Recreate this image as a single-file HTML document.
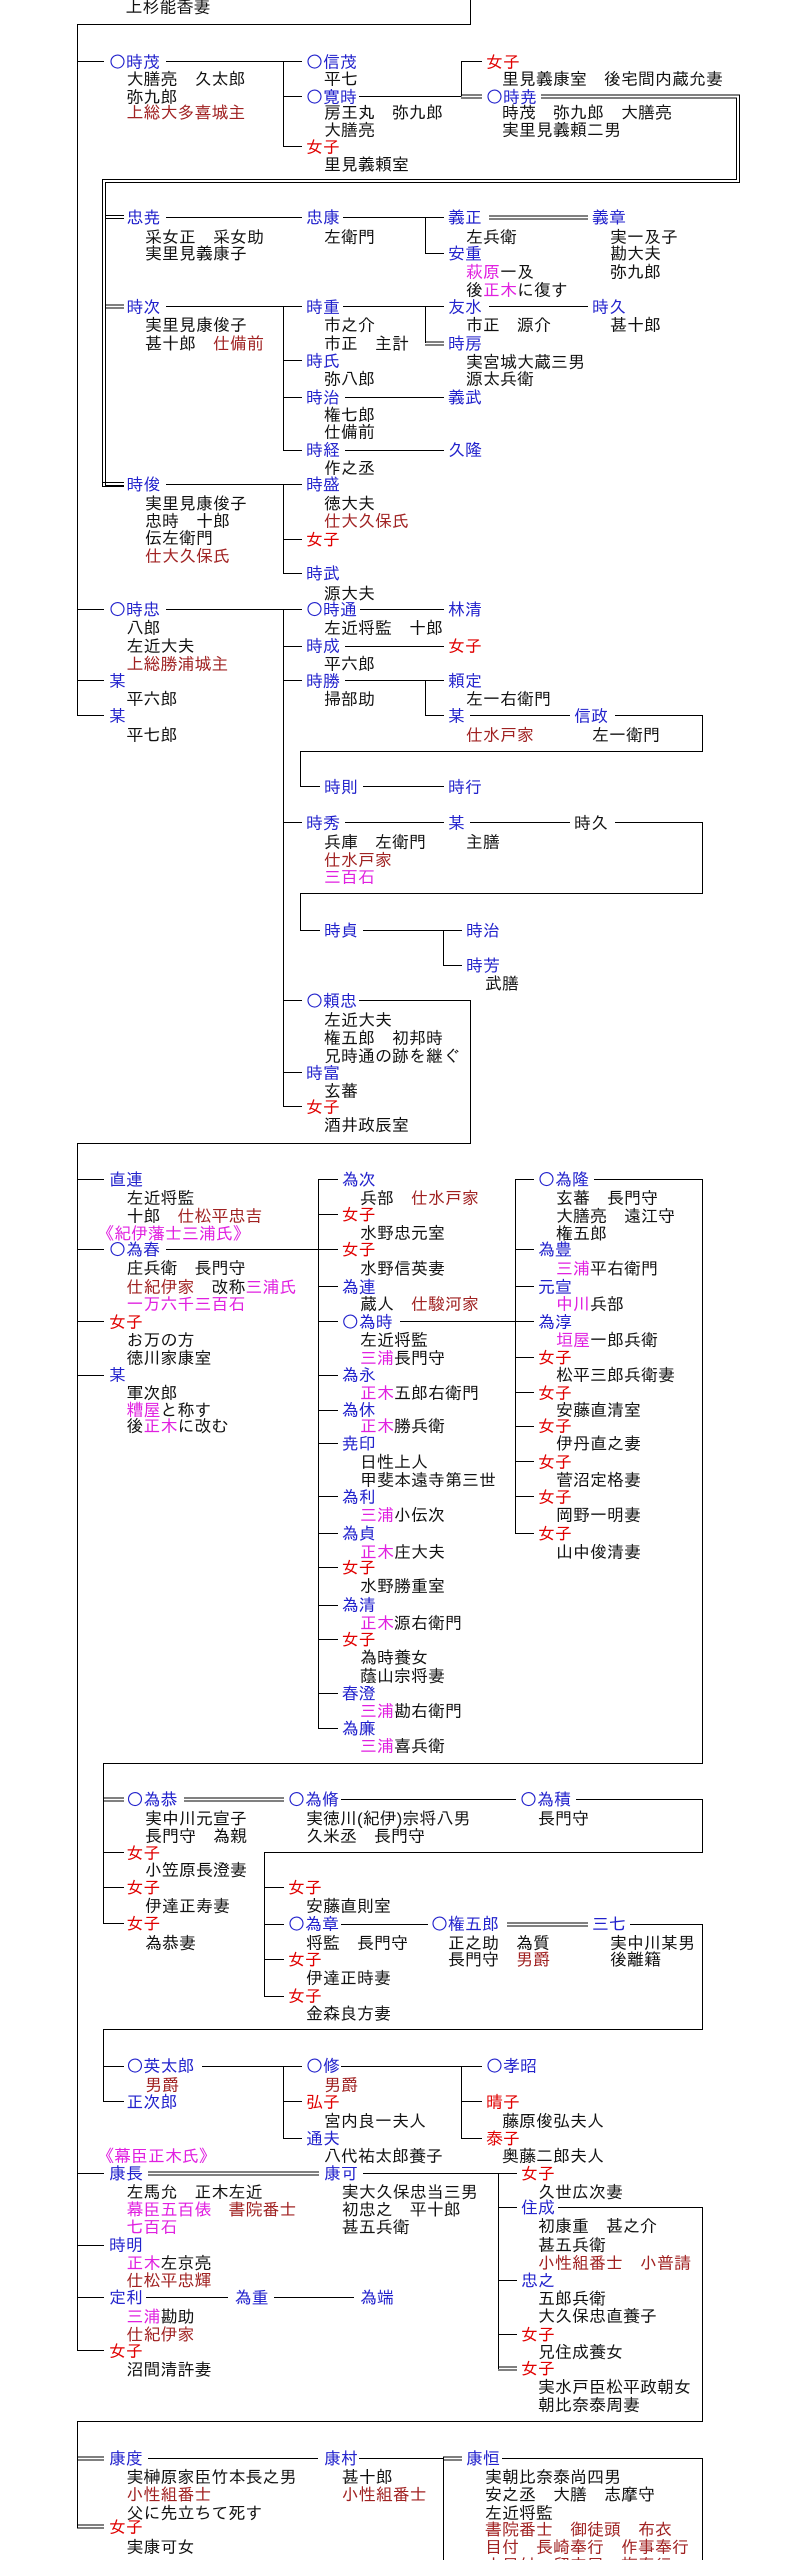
<!DOCTYPE html>
<html><head><meta charset="utf-8">
<style>
html,body{margin:0;padding:0;background:#fff;}
svg{display:block;}
text{font-family:"Liberation Sans","IPAGothic","Noto Sans CJK JP",sans-serif;font-size:17px;fill:#111;}
.c{font-family:"IPAGothic","Noto Sans CJK JP",sans-serif;}
.b{fill:#2222cc;}
.r{fill:#e00000;}
.d{fill:#a02222;}
.m{fill:#e020e0;}
line,polyline{stroke:#000;stroke-width:1;fill:none;}
</style></head><body>
<svg width="794" height="2560" viewBox="0 0 794 2560" xmlns="http://www.w3.org/2000/svg">
<g>
<!-- ===== lines section A ===== -->
<polyline points="470.5,0 470.5,24.5 77.5,24.5 77.5,716"/>
<line x1="77" y1="61.5" x2="104" y2="61.5"/>
<line x1="166" y1="61.5" x2="302" y2="61.5"/>
<line x1="283.5" y1="61.5" x2="283.5" y2="146.5"/>
<line x1="283" y1="96.5" x2="302" y2="96.5"/>
<line x1="283" y1="146.5" x2="302" y2="146.5"/>
<line x1="359" y1="96.5" x2="461" y2="96.5"/>
<line x1="461.5" y1="61.5" x2="461.5" y2="96.5"/>
<line x1="461" y1="61.5" x2="482" y2="61.5"/>
<line x1="461" y1="95" x2="482" y2="95"/>
<line x1="461" y1="98" x2="482" y2="98"/>
<!-- double loop from 時尭 -->
<polyline points="541,95 739.5,95 739.5,182.5 105.5,182.5 105.5,485.5 124,485.5"/>
<polyline points="541,98 736.5,98 736.5,179.5 102.5,179.5 102.5,486.5"/>
<line x1="102" y1="486.5" x2="124" y2="486.5"/>
<line x1="102" y1="482.5" x2="124" y2="482.5"/>
<line x1="105" y1="215.5" x2="124" y2="215.5"/><line x1="105" y1="218.5" x2="124" y2="218.5"/>
<line x1="105" y1="305" x2="124" y2="305"/><line x1="105" y1="308" x2="124" y2="308"/>
<line x1="166" y1="217.5" x2="302" y2="217.5"/>
<line x1="343" y1="217.5" x2="444" y2="217.5"/>
<line x1="425.5" y1="217.5" x2="425.5" y2="253.5"/>
<line x1="425" y1="253.5" x2="444" y2="253.5"/>
<line x1="489" y1="216" x2="588" y2="216"/><line x1="489" y1="219" x2="588" y2="219"/>
<line x1="166" y1="306.5" x2="302" y2="306.5"/>
<line x1="283.5" y1="306.5" x2="283.5" y2="450.5"/>
<line x1="283" y1="360.5" x2="302" y2="360.5"/>
<line x1="283" y1="397.5" x2="302" y2="397.5"/>
<line x1="283" y1="450.5" x2="302" y2="450.5"/>
<line x1="343" y1="306.5" x2="444" y2="306.5"/>
<line x1="425.5" y1="306.5" x2="425.5" y2="343"/>
<line x1="425" y1="342" x2="444" y2="342"/><line x1="425" y1="345" x2="444" y2="345"/>
<line x1="489" y1="306.5" x2="588" y2="306.5"/>
<line x1="345" y1="397.5" x2="444" y2="397.5"/>
<line x1="345" y1="450.5" x2="444" y2="450.5"/>
<line x1="166" y1="484.5" x2="302" y2="484.5"/>
<line x1="283.5" y1="484.5" x2="283.5" y2="573.5"/>
<line x1="283" y1="539.5" x2="302" y2="539.5"/>
<line x1="283" y1="573.5" x2="302" y2="573.5"/>
<!-- 時忠 -->
<line x1="77" y1="609.5" x2="104" y2="609.5"/>
<line x1="166" y1="609.5" x2="302" y2="609.5"/>
<line x1="283.5" y1="609.5" x2="283.5" y2="1106.5"/>
<line x1="360" y1="609.5" x2="444" y2="609.5"/>
<line x1="283" y1="646.5" x2="302" y2="646.5"/>
<line x1="345" y1="646.5" x2="444" y2="646.5"/>
<line x1="283" y1="680.5" x2="302" y2="680.5"/>
<line x1="345" y1="680.5" x2="444" y2="680.5"/>
<line x1="425.5" y1="680.5" x2="425.5" y2="715.5"/>
<line x1="425" y1="715.5" x2="444" y2="715.5"/>
<line x1="470" y1="715.5" x2="570" y2="715.5"/>
<polyline points="615,715.5 702.5,715.5 702.5,751.5 300.5,751.5 300.5,786.5 320,786.5"/>
<line x1="363" y1="786.5" x2="444" y2="786.5"/>
<line x1="77" y1="680.5" x2="104" y2="680.5"/>
<line x1="77" y1="715.5" x2="104" y2="715.5"/>
<line x1="283" y1="822.5" x2="302" y2="822.5"/>
<line x1="345" y1="822.5" x2="444" y2="822.5"/>
<line x1="470" y1="822.5" x2="570" y2="822.5"/>
<polyline points="615,822.5 702.5,822.5 702.5,893.5 300.5,893.5 300.5,930.5 320,930.5"/>
<line x1="363" y1="930.5" x2="462" y2="930.5"/>
<polyline points="443.5,930.5 443.5,965.5 462,965.5"/>
<line x1="283" y1="1000.5" x2="302" y2="1000.5"/>
<polyline points="359,1000.5 470.5,1000.5 470.5,1143.5 77.5,1143.5 77.5,2351"/>
<line x1="283" y1="1072.5" x2="302" y2="1072.5"/>
<line x1="283" y1="1106.5" x2="302" y2="1106.5"/>
<!-- section 3 -->
<line x1="77" y1="1179.5" x2="104" y2="1179.5"/>
<line x1="77" y1="1249.5" x2="104" y2="1249.5"/>
<line x1="166" y1="1249.5" x2="319" y2="1249.5"/>
<line x1="77" y1="1321.5" x2="104" y2="1321.5"/>
<line x1="77" y1="1375.5" x2="104" y2="1375.5"/>
<line x1="318.5" y1="1179.5" x2="318.5" y2="1728.5"/>
<line x1="318" y1="1179.5" x2="338" y2="1179.5"/>
<line x1="318" y1="1214.5" x2="338" y2="1214.5"/>
<line x1="318" y1="1249.5" x2="338" y2="1249.5"/>
<line x1="318" y1="1286.5" x2="338" y2="1286.5"/>
<line x1="318" y1="1321.5" x2="338" y2="1321.5"/>
<line x1="318" y1="1375.5" x2="338" y2="1375.5"/>
<line x1="318" y1="1410.5" x2="338" y2="1410.5"/>
<line x1="318" y1="1443.5" x2="338" y2="1443.5"/>
<line x1="318" y1="1496.5" x2="338" y2="1496.5"/>
<line x1="318" y1="1533.5" x2="338" y2="1533.5"/>
<line x1="318" y1="1567.5" x2="338" y2="1567.5"/>
<line x1="318" y1="1605.5" x2="338" y2="1605.5"/>
<line x1="318" y1="1639.5" x2="338" y2="1639.5"/>
<line x1="318" y1="1693.5" x2="338" y2="1693.5"/>
<line x1="318" y1="1728.5" x2="338" y2="1728.5"/>
<line x1="400" y1="1321.5" x2="515" y2="1321.5"/>
<line x1="515.5" y1="1179.5" x2="515.5" y2="1533.5"/>
<line x1="515" y1="1179.5" x2="534" y2="1179.5"/>
<line x1="515" y1="1249.5" x2="534" y2="1249.5"/>
<line x1="515" y1="1286.5" x2="534" y2="1286.5"/>
<line x1="515" y1="1321.5" x2="534" y2="1321.5"/>
<line x1="515" y1="1357.5" x2="534" y2="1357.5"/>
<line x1="515" y1="1392.5" x2="534" y2="1392.5"/>
<line x1="515" y1="1426.5" x2="534" y2="1426.5"/>
<line x1="515" y1="1461.5" x2="534" y2="1461.5"/>
<line x1="515" y1="1496.5" x2="534" y2="1496.5"/>
<line x1="515" y1="1533.5" x2="534" y2="1533.5"/>
<polyline points="594,1179.5 702.5,1179.5 702.5,1763.5 103.5,1763.5 103.5,1923.5 124,1923.5"/>
<line x1="103" y1="1798" x2="124" y2="1798"/><line x1="103" y1="1801" x2="124" y2="1801"/>
<line x1="103" y1="1852.5" x2="124" y2="1852.5"/>
<line x1="103" y1="1887.5" x2="124" y2="1887.5"/>
<line x1="184" y1="1798" x2="284" y2="1798"/><line x1="184" y1="1801" x2="284" y2="1801"/>
<line x1="341" y1="1799.5" x2="516" y2="1799.5"/>
<polyline points="576,1799.5 702.5,1799.5 702.5,1852.5 264.5,1852.5 264.5,1996.5 284,1996.5"/>
<line x1="264" y1="1887.5" x2="284" y2="1887.5"/>
<line x1="264" y1="1924.5" x2="284" y2="1924.5"/>
<line x1="264" y1="1959.5" x2="284" y2="1959.5"/>
<line x1="341" y1="1924.5" x2="428" y2="1924.5"/>
<line x1="507" y1="1923" x2="588" y2="1923"/><line x1="507" y1="1926" x2="588" y2="1926"/>
<polyline points="630,1924.5 702.5,1924.5 702.5,2029.5 103.5,2029.5 103.5,2101.5 124,2101.5"/>
<line x1="103" y1="2066.5" x2="124" y2="2066.5"/>
<line x1="202" y1="2066.5" x2="302" y2="2066.5"/>
<line x1="283.5" y1="2066.5" x2="283.5" y2="2138.5"/>
<line x1="283" y1="2101.5" x2="302" y2="2101.5"/>
<line x1="283" y1="2138.5" x2="302" y2="2138.5"/>
<line x1="341" y1="2066.5" x2="482" y2="2066.5"/>
<line x1="461.5" y1="2066.5" x2="461.5" y2="2138.5"/>
<line x1="461" y1="2101.5" x2="482" y2="2101.5"/>
<line x1="461" y1="2138.5" x2="482" y2="2138.5"/>
<!-- section 5 -->
<line x1="77" y1="2173.5" x2="104" y2="2173.5"/>
<line x1="148" y1="2172" x2="319" y2="2172"/><line x1="148" y1="2175" x2="319" y2="2175"/>
<line x1="363" y1="2173.5" x2="517" y2="2173.5"/>
<line x1="498.5" y1="2173.5" x2="498.5" y2="2369"/>
<line x1="498" y1="2207.5" x2="517" y2="2207.5"/>
<line x1="498" y1="2280.5" x2="517" y2="2280.5"/>
<line x1="498" y1="2334.5" x2="517" y2="2334.5"/>
<line x1="498" y1="2367" x2="517" y2="2367"/><line x1="498" y1="2370" x2="517" y2="2370"/>
<polyline points="558,2207.5 702.5,2207.5 702.5,2421.5 77.5,2421.5 77.5,2528"/>
<line x1="77" y1="2245.5" x2="104" y2="2245.5"/>
<line x1="77" y1="2297.5" x2="104" y2="2297.5"/>
<line x1="77" y1="2350.5" x2="104" y2="2350.5"/>
<line x1="146" y1="2297.5" x2="228" y2="2297.5"/>
<line x1="274" y1="2297.5" x2="354" y2="2297.5"/>
<line x1="77" y1="2457" x2="104" y2="2457"/><line x1="77" y1="2460" x2="104" y2="2460"/>
<line x1="77" y1="2525" x2="104" y2="2525"/><line x1="77" y1="2528" x2="104" y2="2528"/>
<line x1="148" y1="2458.5" x2="318" y2="2458.5"/>
<line x1="359" y1="2458.5" x2="443" y2="2458.5"/>
<line x1="443.5" y1="2457" x2="443.5" y2="2560"/>
<line x1="443" y1="2457" x2="462" y2="2457"/><line x1="443" y1="2460" x2="462" y2="2460"/>
<polyline points="502,2458.5 702.5,2458.5 702.5,2560"/>
</g>

<g>
<!-- ===== text section A ===== -->
<text x="125.5" y="13">上杉能香妻</text>
<text x="109" y="68" class="b"><tspan class="c">○</tspan>時茂</text>
<text x="126.5" y="85">大膳亮　久太郎</text>
<text x="126.5" y="103">弥九郎</text>
<text x="126.5" y="118.5" class="d">上総大多喜城主</text>
<text x="306" y="68" class="b"><tspan class="c">○</tspan>信茂</text>
<text x="324" y="85">平七</text>
<text x="306" y="103" class="b"><tspan class="c">○</tspan>寛時</text>
<text x="324" y="118.5">房王丸　弥九郎</text>
<text x="324" y="136">大膳亮</text>
<text x="306" y="153" class="r">女子</text>
<text x="324" y="170.5">里見義頼室</text>
<text x="486" y="68" class="r">女子</text>
<text x="502" y="85">里見義康室　後宅間内蔵允妻</text>
<text x="486" y="103" class="b"><tspan class="c">○</tspan>時尭</text>
<text x="502" y="118.5">時茂　弥九郎　大膳亮</text>
<text x="502" y="136">実里見義頼二男</text>

<text x="126.5" y="223.5" class="b">忠尭</text>
<text x="145" y="243">采女正　采女助</text>
<text x="145" y="259.5">実里見義康子</text>
<text x="306" y="223.5" class="b">忠康</text>
<text x="324" y="243">左衛門</text>
<text x="448" y="223.5" class="b">義正</text>
<text x="466" y="243">左兵衛</text>
<text x="448" y="259.5" class="b">安重</text>
<text x="466" y="278"><tspan class="m">萩原</tspan>一及</text>
<text x="466" y="296">後<tspan class="m">正木</tspan>に復す</text>
<text x="592" y="223.5" class="b">義章</text>
<text x="610" y="243">実一及子</text>
<text x="610" y="259.5">勘大夫</text>
<text x="610" y="278">弥九郎</text>

<text x="126.5" y="313" class="b">時次</text>
<text x="145" y="331">実里見康俊子</text>
<text x="145" y="349.5">甚十郎　<tspan class="d">仕備前</tspan></text>
<text x="306" y="313" class="b">時重</text>
<text x="324" y="331">市之介</text>
<text x="324" y="349.5">市正　主計</text>
<text x="448" y="313" class="b">友水</text>
<text x="466" y="331">市正　源介</text>
<text x="592" y="313" class="b">時久</text>
<text x="610" y="331">甚十郎</text>
<text x="448" y="349.5" class="b">時房</text>
<text x="466" y="368">実宮城大蔵三男</text>
<text x="466" y="385">源太兵衛</text>
<text x="306" y="367" class="b">時氏</text>
<text x="324" y="385">弥八郎</text>
<text x="306" y="403.5" class="b">時治</text>
<text x="324" y="421">権七郎</text>
<text x="324" y="438">仕備前</text>
<text x="448" y="403.5" class="b">義武</text>
<text x="306" y="456" class="b">時経</text>
<text x="324" y="474">作之丞</text>
<text x="448" y="456" class="b">久隆</text>

<text x="126.5" y="490.5" class="b">時俊</text>
<text x="145" y="509.5">実里見康俊子</text>
<text x="145" y="527">忠時　十郎</text>
<text x="145" y="544">伝左衛門</text>
<text x="145" y="562" class="d">仕大久保氏</text>
<text x="306" y="490.5" class="b">時盛</text>
<text x="324" y="509.5">徳大夫</text>
<text x="324" y="527" class="d">仕大久保氏</text>
<text x="306" y="545.5" class="r">女子</text>
<text x="306" y="579.5" class="b">時武</text>
<text x="324" y="599.5">源大夫</text>

<text x="109" y="615.5" class="b"><tspan class="c">○</tspan>時忠</text>
<text x="126.5" y="634">八郎</text>
<text x="126.5" y="652">左近大夫</text>
<text x="126.5" y="670" class="d">上総勝浦城主</text>
<text x="306" y="615.5" class="b"><tspan class="c">○</tspan>時通</text>
<text x="324" y="634">左近将監　十郎</text>
<text x="448" y="615.5" class="b">林清</text>
<text x="306" y="652" class="b">時成</text>
<text x="324" y="670">平六郎</text>
<text x="448" y="652" class="r">女子</text>
<text x="306" y="687" class="b">時勝</text>
<text x="324" y="705">掃部助</text>
<text x="448" y="687" class="b">頼定</text>
<text x="466" y="705">左一右衛門</text>
<text x="448" y="722" class="b">某</text>
<text x="466" y="741" class="d">仕水戸家</text>
<text x="574" y="722" class="b">信政</text>
<text x="592" y="741">左一衛門</text>
<text x="109" y="687" class="b">某</text>
<text x="126.5" y="705">平六郎</text>
<text x="109" y="722" class="b">某</text>
<text x="126.5" y="741">平七郎</text>
<text x="324" y="793" class="b">時則</text>
<text x="448" y="793" class="b">時行</text>
<text x="306" y="829" class="b">時秀</text>
<text x="324" y="848">兵庫　左衛門</text>
<text x="324" y="866" class="d">仕水戸家</text>
<text x="324" y="883" class="m">三百石</text>
<text x="448" y="829" class="b">某</text>
<text x="466" y="848">主膳</text>
<text x="574" y="829">時久</text>
<text x="324" y="936.5" class="b">時貞</text>
<text x="466" y="936.5" class="b">時治</text>
<text x="466" y="971.5" class="b">時芳</text>
<text x="485" y="989.5">武膳</text>
<text x="306" y="1007" class="b"><tspan class="c">○</tspan>頼忠</text>
<text x="324" y="1026">左近大夫</text>
<text x="324" y="1044">権五郎　初邦時</text>
<text x="324" y="1062">兄時通の跡を継ぐ</text>
<text x="306" y="1079" class="b">時富</text>
<text x="324" y="1097">玄蕃</text>
<text x="306" y="1113" class="r">女子</text>
<text x="324" y="1131">酒井政辰室</text>

<!-- section 3 -->
<text x="109" y="1185.5" class="b">直連</text>
<text x="126.5" y="1204">左近将監</text>
<text x="126.5" y="1222">十郎　<tspan class="d">仕松平忠吉</tspan></text>
<text x="97" y="1239.5" class="m">《紀伊藩士三浦氏》</text>
<text x="109" y="1255.5" class="b"><tspan class="c">○</tspan>為春</text>
<text x="126.5" y="1274">庄兵衛　長門守</text>
<text x="126.5" y="1293"><tspan class="d">仕紀伊家</tspan>　改称<tspan class="m">三浦氏</tspan></text>
<text x="126.5" y="1310" class="m">一万六千三百石</text>
<text x="109" y="1328" class="r">女子</text>
<text x="126.5" y="1346">お万の方</text>
<text x="126.5" y="1364">徳川家康室</text>
<text x="109" y="1381" class="b">某</text>
<text x="126.5" y="1399">軍次郎</text>
<text x="126.5" y="1416"><tspan class="m">糟屋</tspan>と称す</text>
<text x="126.5" y="1432">後<tspan class="m">正木</tspan>に改む</text>

<text x="341.7" y="1185.5" class="b">為次</text>
<text x="360" y="1204">兵部　<tspan class="d">仕水戸家</tspan></text>
<text x="341.7" y="1220.5" class="r">女子</text>
<text x="360" y="1239">水野忠元室</text>
<text x="341.7" y="1255.5" class="r">女子</text>
<text x="360" y="1274.5">水野信英妻</text>
<text x="341.7" y="1293" class="b">為連</text>
<text x="360" y="1310">蔵人　<tspan class="d">仕駿河家</tspan></text>
<text x="341.7" y="1328" class="b"><tspan class="c">○</tspan>為時</text>
<text x="360" y="1346">左近将監</text>
<text x="360" y="1364"><tspan class="m">三浦</tspan>長門守</text>
<text x="341.7" y="1381" class="b">為永</text>
<text x="360" y="1399"><tspan class="m">正木</tspan>五郎右衛門</text>
<text x="341.7" y="1416" class="b">為休</text>
<text x="360" y="1432"><tspan class="m">正木</tspan>勝兵衛</text>
<text x="341.7" y="1449.5" class="b">尭印</text>
<text x="360" y="1468">日性上人</text>
<text x="360" y="1486">甲斐本遠寺第三世</text>
<text x="341.7" y="1503" class="b">為利</text>
<text x="360" y="1521"><tspan class="m">三浦</tspan>小伝次</text>
<text x="341.7" y="1539.5" class="b">為貞</text>
<text x="360" y="1558"><tspan class="m">正木</tspan>庄大夫</text>
<text x="341.7" y="1573.5" class="r">女子</text>
<text x="360" y="1592">水野勝重室</text>
<text x="341.7" y="1611" class="b">為清</text>
<text x="360" y="1629"><tspan class="m">正木</tspan>源右衛門</text>
<text x="341.7" y="1645.5" class="r">女子</text>
<text x="360" y="1663.5">為時養女</text>
<text x="360" y="1682">蔭山宗将妻</text>
<text x="341.7" y="1699.5" class="b">春澄</text>
<text x="360" y="1717"><tspan class="m">三浦</tspan>勘右衛門</text>
<text x="341.7" y="1734.5" class="b">為廉</text>
<text x="360" y="1752"><tspan class="m">三浦</tspan>喜兵衛</text>

<text x="538" y="1185.5" class="b"><tspan class="c">○</tspan>為隆</text>
<text x="556" y="1204">玄蕃　長門守</text>
<text x="556" y="1222">大膳亮　遠江守</text>
<text x="556" y="1239.5">権五郎</text>
<text x="538" y="1255.5" class="b">為豊</text>
<text x="556" y="1274.5"><tspan class="m">三浦</tspan>平右衛門</text>
<text x="538" y="1293" class="b">元宣</text>
<text x="556" y="1310"><tspan class="m">中川</tspan>兵部</text>
<text x="538" y="1328" class="b">為淳</text>
<text x="556" y="1346"><tspan class="m">垣屋</tspan>一郎兵衛</text>
<text x="538" y="1363.5" class="r">女子</text>
<text x="556" y="1381">松平三郎兵衛妻</text>
<text x="538" y="1399" class="r">女子</text>
<text x="556" y="1416">安藤直清室</text>
<text x="538" y="1432" class="r">女子</text>
<text x="556" y="1449.5">伊丹直之妻</text>
<text x="538" y="1468" class="r">女子</text>
<text x="556" y="1486">菅沼定格妻</text>
<text x="538" y="1503" class="r">女子</text>
<text x="556" y="1521">岡野一明妻</text>
<text x="538" y="1539.5" class="r">女子</text>
<text x="556" y="1558">山中俊清妻</text>

<!-- section 4 -->
<text x="126.5" y="1805.5" class="b"><tspan class="c">○</tspan>為恭</text>
<text x="145" y="1824.5">実中川元宣子</text>
<text x="145" y="1842">長門守　為親</text>
<text x="288" y="1805.5" class="b"><tspan class="c">○</tspan>為脩</text>
<text x="306" y="1824.5">実徳川(紀伊)宗将八男</text>
<text x="306" y="1842">久米丞　長門守</text>
<text x="520" y="1805.5" class="b"><tspan class="c">○</tspan>為積</text>
<text x="538" y="1824.5">長門守</text>
<text x="126.5" y="1859" class="r">女子</text>
<text x="145" y="1876">小笠原長澄妻</text>
<text x="126.5" y="1893.5" class="r">女子</text>
<text x="145" y="1912">伊達正寿妻</text>
<text x="126.5" y="1929.5" class="r">女子</text>
<text x="145" y="1949">為恭妻</text>
<text x="288" y="1893.5" class="r">女子</text>
<text x="306" y="1912">安藤直則室</text>
<text x="288" y="1930" class="b"><tspan class="c">○</tspan>為章</text>
<text x="306" y="1949">将監　長門守</text>
<text x="288" y="1965.5" class="r">女子</text>
<text x="306" y="1984">伊達正時妻</text>
<text x="288" y="2002" class="r">女子</text>
<text x="306" y="2019.5">金森良方妻</text>
<text x="431" y="1930" class="b"><tspan class="c">○</tspan>権五郎</text>
<text x="448" y="1949">正之助　為質</text>
<text x="448" y="1965.5">長門守　<tspan class="d">男爵</tspan></text>
<text x="592" y="1930" class="b">三七</text>
<text x="610" y="1949">実中川某男</text>
<text x="610" y="1965.5">後離籍</text>

<text x="126.5" y="2072" class="b"><tspan class="c">○</tspan>英太郎</text>
<text x="145" y="2091" class="d">男爵</text>
<text x="126.5" y="2108" class="b">正次郎</text>
<text x="306" y="2072" class="b"><tspan class="c">○</tspan>修</text>
<text x="324" y="2091" class="d">男爵</text>
<text x="306" y="2108" class="r">弘子</text>
<text x="324" y="2127">宮内良一夫人</text>
<text x="306" y="2144.5" class="b">通夫</text>
<text x="324" y="2162">八代祐太郎養子</text>
<text x="486" y="2072" class="b"><tspan class="c">○</tspan>孝昭</text>
<text x="486" y="2108" class="r">晴子</text>
<text x="502" y="2127">藤原俊弘夫人</text>
<text x="486" y="2144.5" class="r">泰子</text>
<text x="502" y="2162">奥藤二郎夫人</text>

<!-- section 5 -->
<text x="97" y="2162" class="m">《幕臣正木氏》</text>
<text x="109" y="2179.5" class="b">康長</text>
<text x="126.5" y="2198">左馬允　正木左近</text>
<text x="126.5" y="2215.5"><tspan class="m">幕臣五百俵</tspan>　<tspan class="d">書院番士</tspan></text>
<text x="126.5" y="2233" class="m">七百石</text>
<text x="324" y="2179.5" class="b">康可</text>
<text x="341.7" y="2198">実大久保忠当三男</text>
<text x="341.7" y="2215.5">初忠之　平十郎</text>
<text x="341.7" y="2233">甚五兵衛</text>
<text x="521" y="2179.5" class="r">女子</text>
<text x="538" y="2198">久世広次妻</text>
<text x="521" y="2213.5" class="b">住成</text>
<text x="538" y="2232">初康重　甚之介</text>
<text x="538" y="2251">甚五兵衛</text>
<text x="538" y="2269" class="d">小性組番士　小普請</text>
<text x="521" y="2286.5" class="b">忠之</text>
<text x="538" y="2304.5">五郎兵衛</text>
<text x="538" y="2322">大久保忠直養子</text>
<text x="521" y="2340.5" class="r">女子</text>
<text x="538" y="2358">兄住成養女</text>
<text x="521" y="2374.5" class="r">女子</text>
<text x="538" y="2393">実水戸臣松平政朝女</text>
<text x="538" y="2411">朝比奈泰周妻</text>

<text x="109" y="2251" class="b">時明</text>
<text x="126.5" y="2269"><tspan class="m">正木</tspan>左京亮</text>
<text x="126.5" y="2286.5" class="d">仕松平忠輝</text>
<text x="109" y="2303.5" class="b">定利</text>
<text x="234.6" y="2303.5" class="b">為重</text>
<text x="360" y="2303.5" class="b">為端</text>
<text x="126.5" y="2322.5"><tspan class="m">三浦</tspan>勘助</text>
<text x="126.5" y="2340.5" class="d">仕紀伊家</text>
<text x="109" y="2357" class="r">女子</text>
<text x="126.5" y="2375.5">沼間清許妻</text>

<text x="109" y="2464.5" class="b">康度</text>
<text x="126.5" y="2483">実榊原家臣竹本長之男</text>
<text x="126.5" y="2500.5" class="d">小性組番士</text>
<text x="126.5" y="2519">父に先立ちて死す</text>
<text x="109" y="2533" class="r">女子</text>
<text x="126.5" y="2553">実康可女</text>
<text x="324" y="2464.5" class="b">康村</text>
<text x="341.7" y="2483">甚十郎</text>
<text x="341.7" y="2500.5" class="d">小性組番士</text>
<text x="466" y="2464.5" class="b">康恒</text>
<text x="485" y="2483">実朝比奈泰尚四男</text>
<text x="485" y="2500.5">安之丞　大膳　志摩守</text>
<text x="485" y="2519">左近将監</text>
<text x="485" y="2535.5" class="d">書院番士　御徒頭　布衣</text>
<text x="485" y="2553" class="d">目付　長崎奉行　作事奉行</text>
<text x="485" y="2571" class="d">大目付　留守居　旗奉行</text>
</g>
</svg>
</body></html>
